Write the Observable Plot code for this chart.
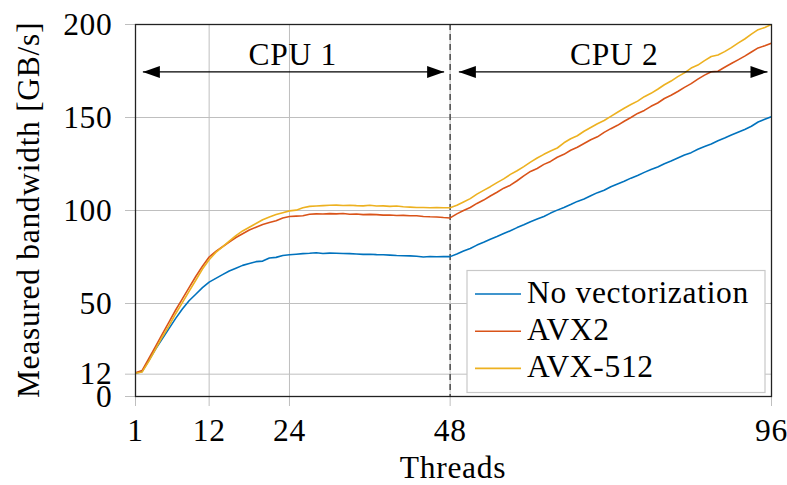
<!DOCTYPE html>
<html>
<head>
<meta charset="utf-8">
<script src="https://cdn.jsdelivr.net/npm/d3@7"></script>
<script src="https://cdn.jsdelivr.net/npm/@observablehq/plot@0.6"></script>
<style>
  html, body { margin: 0; padding: 0; background: #fff; }
  #chart { width: 787px; height: 485px; }
</style>
</head>
<body>
<div id="chart"></div>
<script>
// Thread counts on the x axis (one measurement per thread count)
const threads = d3.range(1, 97);

// Measured bandwidth in GB/s for each thread count
const noVectorization = [
  12.5, 13.5, 19.5, 25.5, 31.0, 36.5, 42.0, 47.0, 51.5, 55.0,
  58.5, 61.5, 63.5, 65.5, 67.5, 69.0, 70.5, 71.5, 72.5, 72.8,
  74.5, 74.8, 75.8, 76.2, 76.5, 76.8, 77.0, 77.3, 76.9, 77.1,
  77.0, 76.9, 76.8, 76.6, 76.4, 76.5, 76.3, 76.2, 76.0, 75.8,
  75.7, 75.6, 75.4, 75.0, 75.3, 75.1, 75.2, 75.2, 76.6, 78.2,
  79.6, 81.4, 82.9, 84.5, 86.0, 87.6, 89.1, 90.8, 92.3, 94.0,
  95.4, 96.8, 98.6, 100.2, 101.6, 103.2, 104.9, 106.2, 107.9, 109.6,
  110.9, 112.8, 114.3, 115.7, 117.4, 118.8, 120.5, 122.0, 123.4, 125.1,
  126.6, 128.2, 129.8, 131.1, 132.9, 134.4, 135.8, 137.5, 139.0, 140.6,
  142.1, 143.6, 145.3, 147.6, 149.0, 150.4
];
const avx2 = [
  12.8, 14.0, 20.5, 27.0, 33.5, 40.0, 46.5, 52.5, 58.5, 64.5,
  70.0, 75.0, 78.0, 80.5, 83.0, 85.5, 87.5, 89.5, 91.0, 92.5,
  93.5, 94.5, 96.0, 96.8, 97.0, 97.2, 98.0, 98.2, 98.1, 98.3,
  98.2, 98.4, 98.0, 98.1, 97.8, 97.9, 97.8, 97.5, 97.6, 97.3,
  97.4, 97.2, 97.2, 96.8, 96.6, 96.5, 96.2, 96.0, 98.2, 100.0,
  101.6, 103.8, 105.6, 107.8, 109.8, 112.0, 113.6, 116.0, 118.6, 121.0,
  122.6, 124.8, 126.4, 128.6, 130.2, 132.4, 134.0, 136.0, 138.0, 139.6,
  142.0, 144.0, 145.8, 148.0, 150.0, 152.2, 153.8, 156.0, 157.8, 160.2,
  162.0, 164.0, 166.2, 168.2, 170.6, 172.8, 174.6, 174.9, 177.0, 179.0,
  181.0, 183.0, 185.2, 187.4, 188.6, 189.9
];
const avx512 = [
  12.5, 13.2, 19.0, 25.5, 32.0, 38.0, 44.5, 50.5, 56.5, 62.5,
  68.5, 73.5, 77.5, 80.5, 83.5, 86.5, 89.0, 91.0, 93.0, 95.0,
  96.5, 97.8, 98.8, 99.8, 100.2, 101.5, 102.2, 102.4, 102.6, 102.8,
  102.9, 102.7, 102.8, 102.6, 102.5, 102.8, 102.4, 102.5, 102.2, 102.4,
  102.0, 101.8, 101.6, 101.6, 101.5, 101.6, 101.5, 101.5, 102.8, 104.6,
  106.4, 108.8, 110.8, 112.8, 115.0, 117.0, 119.4, 121.4, 123.6, 126.0,
  128.2, 130.2, 132.0, 133.6, 136.4, 138.6, 140.2, 142.6, 144.6, 146.6,
  148.4, 150.6, 152.8, 155.0, 157.0, 158.8, 161.2, 163.0, 165.2, 167.6,
  169.6, 172.0, 174.0, 176.6, 178.2, 180.6, 182.8, 183.6, 185.4, 187.6,
  190.0, 192.2, 194.8, 197.2, 198.4, 200.0
];

const seriesNames = ["No vectorization", "AVX2", "AVX-512"];
const seriesValues = [noVectorization, avx2, avx512];
const seriesColors = ["#0072BD", "#D95319", "#EDB120"];

const xTicks = [1, 12, 24, 48, 96];
const yTicks = [0, 12, 50, 100, 150, 200];
const xGrid = [12, 24, 48];
const yGrid = [12, 50, 100, 150];

// Socket boundary and the two CPU spans annotated above the curves
const socketBoundary = [48];
const cpuNames = ["CPU 1", "CPU 2"];
const cpuCenters = [24.5, 72.5];
const cpuStarts = [2.1, 49.3];
const cpuEnds = [47.1, 95.4];
const arrowLevel = 174.5;
const cpuLabelLevel = 178.3;

const rows = seriesNames.flatMap((name, i) =>
  seriesValues[i].map((v, j) => ({series: name, threads: threads[j], bandwidth: v}))
);
const spans = cpuNames.map((name, i) => ({name, center: cpuCenters[i], start: cpuStarts[i], end: cpuEnds[i]}));

// Filled arrowheads with the tip at the mark's anchor
const headRight = {draw(ctx) { ctx.moveTo(0, 0); ctx.lineTo(-17, -6); ctx.lineTo(-17, 6); ctx.closePath(); }};
const headLeft = {draw(ctx) { ctx.moveTo(0, 0); ctx.lineTo(17, -6); ctx.lineTo(17, 6); ctx.closePath(); }};

const FONT = "'Liberation Serif', 'Times New Roman', serif";
const FS = 31.5;
const LS = "0.7px";
const W = 787, H = 485;
const mL = 135, mR = 16, mT = 24, mB = 89;

const plot = Plot.plot({
  width: W,
  height: H,
  marginLeft: mL,
  marginRight: mR,
  marginTop: mT,
  marginBottom: mB,
  style: {fontFamily: FONT, fontSize: FS + "px", color: "#000", background: "#fff", letterSpacing: LS},
  x: {domain: [1, 96], label: null},
  y: {domain: [0, 200], label: null},
  color: {domain: seriesNames, range: seriesColors},
  marks: [
    Plot.gridX(xGrid, {stroke: "#bfbfbf", strokeOpacity: 1, strokeWidth: 1}),
    Plot.gridY(yGrid, {stroke: "#bfbfbf", strokeOpacity: 1, strokeWidth: 1}),
    Plot.axisX({ticks: xTicks, tickSize: 10, tickPadding: 12, stroke: "#bfbfbf", fill: "#000", label: null, fontSize: FS}),
    Plot.axisY({ticks: yTicks, tickSize: 10, tickPadding: 13, stroke: "#bfbfbf", fill: "#000", label: null, fontSize: FS}),
    Plot.ruleX(socketBoundary, {stroke: "#555", strokeWidth: 1.6, strokeDasharray: "6,4"}),
    Plot.line(rows, {x: "threads", y: "bandwidth", stroke: "series", z: "series", strokeWidth: 1.6, clip: true}),
    Plot.frame({stroke: "#222", strokeWidth: 1.3}),
    Plot.link(spans, {x1: "start", x2: "end", y1: () => arrowLevel, y2: () => arrowLevel, stroke: "#000", strokeWidth: 1.3}),
    Plot.dot(spans, {x: "end", y: () => arrowLevel, symbol: headRight, fill: "#000", stroke: null}),
    Plot.dot(spans, {x: "start", y: () => arrowLevel, symbol: headLeft, fill: "#000", stroke: null}),
    Plot.text(spans, {x: "center", y: () => cpuLabelLevel, text: "name", fontSize: FS, fill: "#000", lineAnchor: "bottom"})
  ]
});

const svg = d3.select(plot);

// Axis titles
svg.append("text")
  .attr("x", (mL + W - mR) / 2).attr("y", 478)
  .attr("text-anchor", "middle")
  .attr("font-family", FONT).attr("font-size", FS).style("letter-spacing", LS)
  .text("Threads");
svg.append("text")
  .attr("transform", `translate(39, ${(mT + H - mB) / 2}) rotate(-90)`)
  .attr("text-anchor", "middle")
  .attr("font-family", FONT).attr("font-size", FS).style("letter-spacing", LS)
  .text("Measured bandwidth [GB/s]");

// Legend in the lower-right corner of the plot area
const legend = svg.append("g").attr("text-anchor", "start");
legend.append("rect")
  .attr("x", 467).attr("y", 270.5).attr("width", 298).attr("height", 122)
  .attr("fill", "#fff").attr("stroke", "#c8c8c8").attr("stroke-width", 1.2);
seriesNames.forEach((name, i) => {
  const cy = 294 + i * 37.2;
  legend.append("line")
    .attr("x1", 475).attr("x2", 521).attr("y1", cy).attr("y2", cy)
    .attr("stroke", seriesColors[i]).attr("stroke-width", 1.6);
  legend.append("text")
    .attr("x", 527).attr("y", cy + 8.7)
    .attr("text-anchor", "start")
    .attr("font-family", FONT).attr("font-size", FS).style("letter-spacing", LS)
    .text(name);
});

document.getElementById("chart").appendChild(plot);
</script>
</body>
</html>
